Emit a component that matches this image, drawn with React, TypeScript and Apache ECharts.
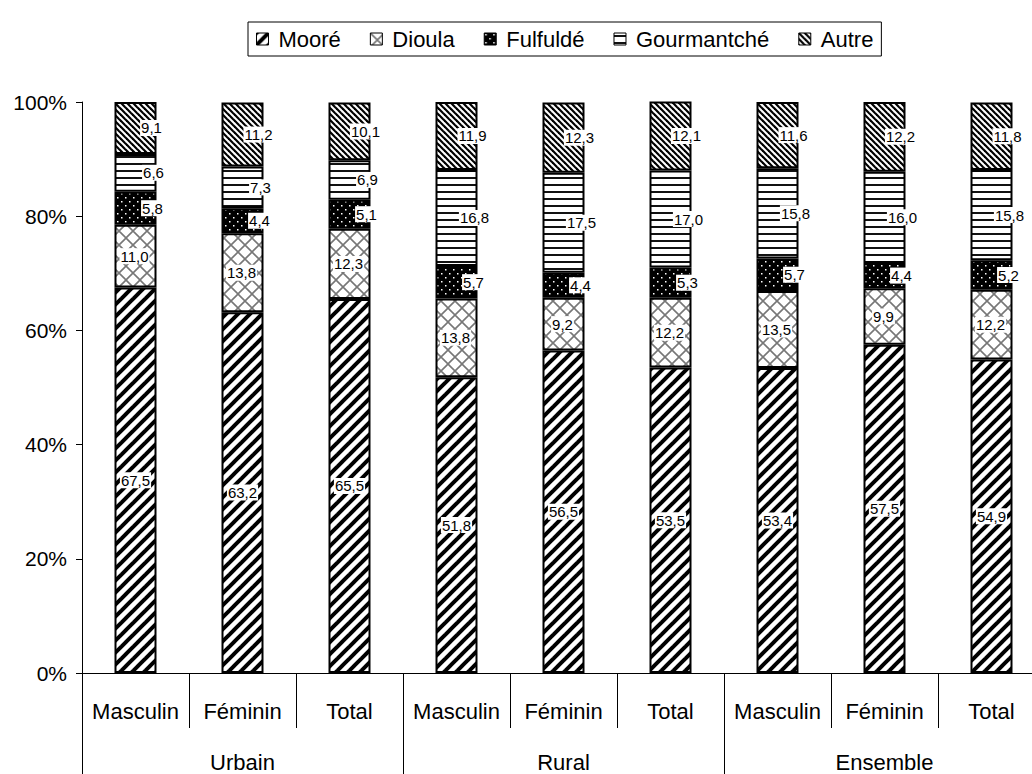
import React, { useEffect, useRef } from "react";
import * as echarts from "echarts";

const categories = ["Masculin", "Féminin", "Total", "Masculin", "Féminin", "Total", "Masculin", "Féminin", "Total"];
const groups = ["Urbain", "Rural", "Ensemble"];
const seriesNames = ["Mooré", "Dioula", "Fulfuldé", "Gourmantché", "Autre"];
const moore = [67.5, 63.2, 65.5, 51.8, 56.5, 53.5, 53.4, 57.5, 54.9];
const dioula = [11.0, 13.8, 12.3, 13.8, 9.2, 12.2, 13.5, 9.9, 12.2];
const fulfulde = [5.8, 4.4, 5.1, 5.7, 4.4, 5.3, 5.7, 4.4, 5.2];
const gourmantche = [6.6, 7.3, 6.9, 16.8, 17.5, 17.0, 15.8, 16.0, 15.8];
const autre = [9.1, 11.2, 10.1, 11.9, 12.3, 12.1, 11.6, 12.2, 11.8];
const yTicks = [0, 20, 40, 60, 80, 100];

const FONT = "'Liberation Sans', Arial, sans-serif";

function makePattern(kind: string) {
  const size = kind === "moore" ? 12 : kind === "dioula" ? 14 : kind === "fulfulde" ? 8 : kind === "gourmantche" ? 7 : 6;
  const c = document.createElement("canvas");
  c.width = size;
  c.height = size;
  const g = c.getContext("2d")!;
  g.fillStyle = "#fff";
  g.fillRect(0, 0, size, size);
  if (kind === "moore") {
    g.strokeStyle = "#000";
    g.lineWidth = 4;
    for (const o of [-size, 0, size]) {
      g.beginPath();
      g.moveTo(o - 2, size + 2);
      g.lineTo(o + size + 2, -2);
      g.stroke();
    }
  } else if (kind === "autre") {
    g.strokeStyle = "#000";
    g.lineWidth = 2.2;
    for (const o of [-size, 0, size]) {
      g.beginPath();
      g.moveTo(o - 2, -2);
      g.lineTo(o + size + 2, size + 2);
      g.stroke();
    }
  } else if (kind === "dioula") {
    g.strokeStyle = "#777";
    g.lineWidth = 1.6;
    g.beginPath();
    g.moveTo(-1, -1);
    g.lineTo(size + 1, size + 1);
    g.moveTo(size + 1, -1);
    g.lineTo(-1, size + 1);
    g.stroke();
  } else if (kind === "fulfulde") {
    g.fillStyle = "#000";
    g.fillRect(0, 0, size, size);
    g.fillStyle = "#fff";
    g.fillRect(1, 1, 1.5, 1.5);
    g.fillRect(5, 5, 1.5, 1.5);
  } else if (kind === "gourmantche") {
    g.fillStyle = "#111";
    g.fillRect(0, 2, size, 2);
  }
  return {
    image: c.toDataURL(),
    repeat: "repeat",
    imageWidth: size,
    imageHeight: size,
  } as any;
}

const fmt = (v: number) => v.toFixed(1).replace(".", ",");

export default function App() {
  const ref = useRef<HTMLDivElement>(null);
  useEffect(() => {
    if (!ref.current) return;
    const chart = echarts.init(ref.current, null, { renderer: "svg" });
    const kinds = ["moore", "dioula", "fulfulde", "gourmantche", "autre"];
    const values = [moore, dioula, fulfulde, gourmantche, autre];
    const offsets = [0, -1, 17, 18, 16];
    const series = seriesNames.map((name, i) => ({
      name,
      type: "bar",
      stack: "total",
      barWidth: 42,
      xAxisIndex: 0,
      data: values[i],
      itemStyle: {
        color: makePattern(kinds[i]),
        borderColor: "#000",
        borderWidth: 2,
      },
      label: {
        show: true,
        position: "inside",
        offset: [offsets[i], 0],
        formatter: (p: any) => fmt(p.value),
        color: "#000",
        fontFamily: FONT,
        fontSize: 15,
        backgroundColor: "#fff",
        padding: [1, 1, 0, 1],
      },
    }));
    chart.setOption({
      animation: false,
      backgroundColor: "#fff",
      legend: {
        data: seriesNames,
        left: 248,
        top: 22,
        padding: [6, 8],
        itemGap: 29,
        itemWidth: 12,
        itemHeight: 12,
        itemStyle: { borderColor: "#000", borderWidth: 1 },
        icon: "rect",
        borderColor: "#000",
        borderWidth: 1,
        textStyle: { fontFamily: FONT, fontSize: 22, color: "#000", padding: [0, 0, 0, 5] },
      },
      grid: { left: 82, top: 102, right: 1, height: 571 },
      xAxis: [
        {
          type: "category",
          data: categories,
          position: "bottom",
          axisLine: { show: true, lineStyle: { color: "#000", width: 1 } },
          axisTick: { show: true, interval: 0, length: 55, lineStyle: { color: "#000" } },
          axisLabel: { interval: 0, margin: 27, fontFamily: FONT, fontSize: 22, color: "#000" },
        },
        {
          type: "category",
          data: groups,
          position: "bottom",
          axisLine: { show: false },
          axisTick: { show: true, interval: 0, length: 110, lineStyle: { color: "#000" } },
          axisLabel: { interval: 0, margin: 78, fontFamily: FONT, fontSize: 22, color: "#000" },
        },
      ],
      yAxis: {
        type: "value",
        min: yTicks[0],
        max: yTicks[yTicks.length - 1],
        interval: 20,
        splitLine: { show: false },
        axisLine: { show: true, lineStyle: { color: "#000", width: 1 } },
        axisTick: { show: true, length: 6, lineStyle: { color: "#000" } },
        axisLabel: { margin: 15, formatter: "{value}%", fontFamily: FONT, fontSize: 21, color: "#000" },
      },
      series,
    });
    return () => chart.dispose();
  }, []);
  return (
    <div
      ref={ref}
      style={{ position: "fixed", left: 0, top: 0, width: 1046, height: 774, background: "#fff" }}
    />
  );
}
